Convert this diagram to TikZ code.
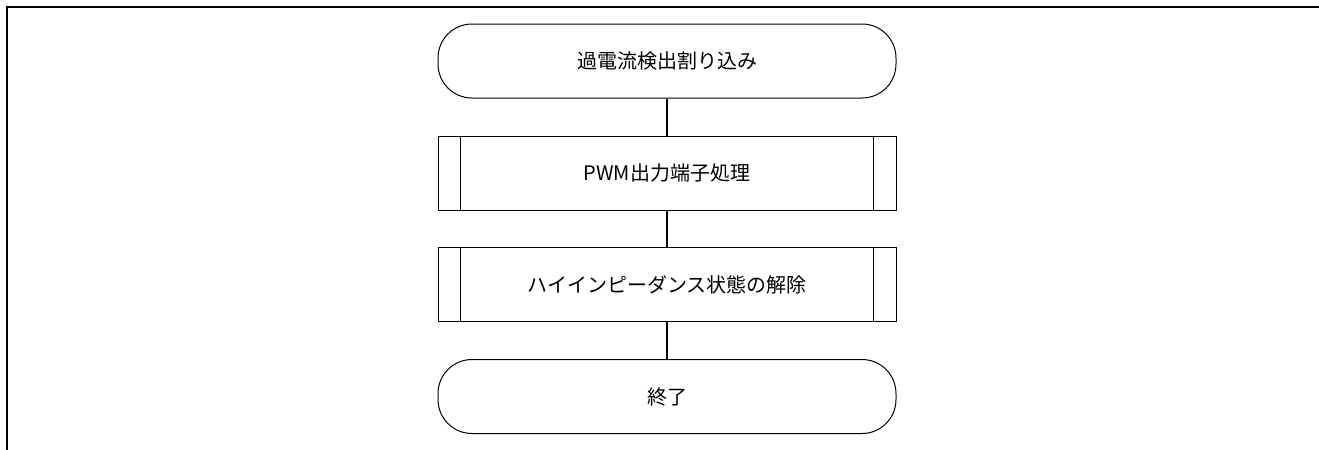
\documentclass[tikz,border=0pt]{standalone}
\usepackage{fontspec}
\setmainfont{Noto Sans CJK JP}
\usetikzlibrary{arrows.meta}

\begin{document}
\begin{tikzpicture}[x=0.5pt, y=-0.5pt,
  term/.style={shape=rectangle, draw=black, line width=0.5pt, rounded corners=17pt, minimum width=229pt, minimum height=37pt, font=\fontsize{10}{12}\selectfont},
  proc/.style={shape=rectangle, draw=black, line width=0.5pt, minimum width=229pt, minimum height=37pt, font=\fontsize{10}{12}\selectfont},
  flow/.style={-, line width=0.7pt, draw=black}]
\useasboundingbox (0,0) rectangle (1319,450);
\draw[line width=1pt] (7,450) -- (7,7) -- (1319,7);
\node[term] (start) at (667, 61) {過電流検出割り込み};
\node[proc] (pwm) at (667, 173) {PWM出力端子処理};
\node[proc] (hiz) at (667, 284.5) {ハイインピーダンス状態の解除};
\node[term] (end) at (667, 396.5) {終了};
\draw[line width=0.5pt] ([xshift=11.5pt]pwm.north west) -- ([xshift=11.5pt]pwm.south west);
\draw[line width=0.5pt] ([xshift=-11.5pt]pwm.north east) -- ([xshift=-11.5pt]pwm.south east);
\draw[line width=0.5pt] ([xshift=11.5pt]hiz.north west) -- ([xshift=11.5pt]hiz.south west);
\draw[line width=0.5pt] ([xshift=-11.5pt]hiz.north east) -- ([xshift=-11.5pt]hiz.south east);
\path [flow] (start) edge (pwm);
\path [flow] (pwm) edge (hiz);
\path [flow] (hiz) edge (end);
\end{tikzpicture}
\end{document}
